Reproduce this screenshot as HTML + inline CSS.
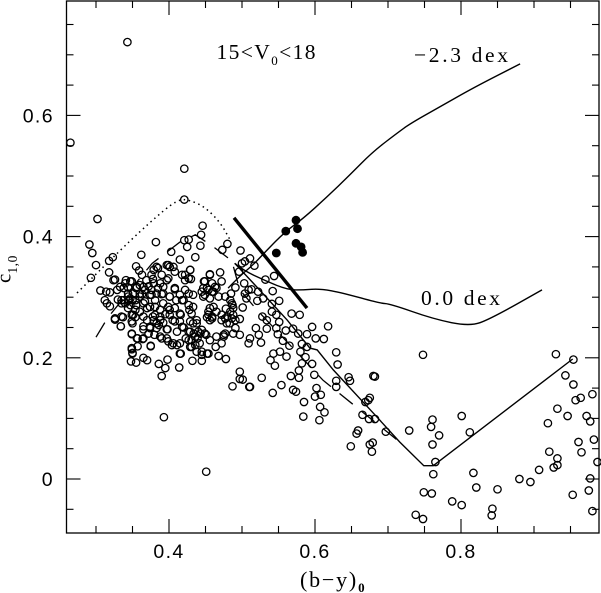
<!DOCTYPE html>
<html>
<head>
<meta charset="utf-8">
<title>c1,0 vs (b-y)0</title>
<style>
html,body{margin:0;padding:0;background:#fff;}
svg{display:block;}
.serif{font-family:"Liberation Serif",serif;fill:#000;}
.sans{font-family:"Liberation Sans",sans-serif;fill:#000;}
</style>
</head>
<body>
<svg id="chart" xmlns="http://www.w3.org/2000/svg" width="601" height="593" viewBox="0 0 601 593">
  <g id="lines"></g>
  <g id="stars"></g>
  <g id="dots"></g>
  <g id="axes"></g>
  <g id="labels"></g>
  <text class="serif" x="216.5" y="59" font-size="21.5" textLength="99">15&lt;V<tspan font-size="13" dy="6">0</tspan><tspan dy="-6">&lt;18</tspan></text>
  <text class="serif" x="414" y="62" font-size="21.5" textLength="94">−2.3 dex</text>
  <text class="serif" x="421" y="305" font-size="21.5" textLength="79">0.0 dex</text>
  <text class="serif" x="300" y="587" font-size="22" letter-spacing="1.8">(b−y)<tspan font-size="13" font-weight="bold" dy="5" letter-spacing="0">0</tspan></text>
  <text class="serif" transform="translate(10.5,283) rotate(-90)" font-size="21">c<tspan font-size="13.5" dy="6.5" letter-spacing="0.6">1,0</tspan></text>
</svg>
<script>
var xTicks = [0.25,0.30,0.35,0.40,0.45,0.50,0.55,0.60,0.65,0.70,0.75,0.80,0.85,0.90,0.95];
var yTicks = [-0.05,0,0.05,0.10,0.15,0.20,0.25,0.30,0.35,0.40,0.45,0.50,0.55,0.60,0.65,0.70,0.75];
var xLabels = [0.4,0.6,0.8];
var yLabels = [0,0.2,0.4,0.6];
var curveMetalPoor = [[.481,.315],[.497,.335],[.515,.353],[.532,.375],[.559,.408],[.584,.430],[.616,.465],[.648,.502],[.679,.540],[.716,.574],[.734,.589],[.771,.614],[.816,.645],[.881,.685]];
var curveSolar = [[.490,.356],[.501,.345],[.532,.327],[.563,.312],[.584,.312],[.607,.314],[.638,.307],[.689,.290],[.703,.289],[.762,.264],[.812,.252],[.840,.264],[.911,.312]];
var curveDescending = [[.490,.356],[.514,.325],[.562,.262],[.593,.216],[.603,.213],[.625,.180],[.685,.102],[.716,.061],[.749,.022],[.762,.022],[.953,.198]];
var curveDashed = [[.300,.234],[.316,.266],[.347,.312],[.377,.356],[.415,.391],[.436,.403],[.460,.384],[.486,.360],[.497,.312],[.519,.281],[.611,.163],[.716,.061]];
var curveDotted = [[.274,.307],[.319,.361],[.374,.424],[.412,.462],[.429,.460],[.449,.449],[.470,.424],[.484,.394]];
var boundaryLine = [[.489,.431],[.589,.282]];
var filledStars = [[.574,.427],[.560,.409],[.576,.413],[.547,.373],[.574,.389],[.581,.383],[.583,.374]];
var fieldStars = [
[.343,.721],[.265,.555],[.421,.512],[.421,.461],[.393,.102],[.451,.012],
[.302,.429],[.291,.387],[.295,.373],[.382,.391],[.300,.353],[.318,.360],[.323,.366],[.362,.370],[.318,.341],[.293,.332],[.326,.329],[.403,.375],[.421,.394],[.427,.395],[.425,.383],[.415,.362],[.355,.351],[.359,.344],[.363,.337],
[.306,.311],[.314,.309],[.319,.308],[.329,.312],[.341,.328],[.349,.326],[.338,.315],[.344,.316],[.344,.306],[.360,.320],[.369,.328],[.378,.330],[.385,.348],[.397,.353],[.401,.350],[.408,.342],[.422,.337],[.429,.345],[.312,.295],[.315,.290],[.319,.285],[.326,.263],[.337,.267],[.334,.252],[.349,.239],[.357,.232],[.365,.232],[.349,.214],[.350,.208],[.357,.219],[.375,.220],[.365,.200],[.370,.196],[.348,.194],[.355,.192],[.386,.190],[.395,.183],[.398,.197],[.390,.170],[.414,.184],
[.335,.295],[.340,.290],[.344,.282],[.349,.271],[.355,.287],[.360,.301],[.367,.312],[.360,.276],[.365,.268],[.354,.267],[.350,.257],[.365,.252],[.374,.249],[.372,.240],[.383,.257],[.388,.262],[.381,.271],[.374,.284],[.381,.295],[.385,.315],[.376,.312],[.392,.317],[.399,.331],[.408,.313],[.415,.304],[.401,.301],[.392,.290],[.399,.284],[.408,.282],[.420,.295],[.427,.306],[.422,.328],[.428,.279],[.416,.271],[.401,.271],[.415,.260],[.397,.247],[.388,.235],[.397,.232],[.406,.224],[.415,.224],[.423,.232],[.416,.207],[.427,.243],[.411,.243],[.383,.249],[.374,.304],[.388,.279],[.367,.293],[.347,.298],[.351,.306],
[.372,.318],[.355,.315],[.345,.295],[.390,.305],[.410,.295],[.395,.272],[.378,.268],[.370,.262],[.380,.238],[.392,.258],[.405,.262],[.420,.250],[.363,.305],[.350,.295],[.430,.330],[.330,.296],[.335,.290],
[.456,.337],[.449,.326],[.459,.323],[.447,.315],[.454,.312],[.461,.309],[.449,.304],[.456,.298],[.463,.317],[.456,.282],[.454,.271],[.465,.276],[.459,.265],
[.338,.295],[.344,.301],[.347,.287],[.354,.295],[.354,.279],[.360,.306],[.365,.290],[.365,.317],[.340,.323],[.333,.317],[.324,.328],[.347,.326],[.356,.317],[.326,.265],[.335,.268],[.334,.252],[.351,.271],[.349,.260],[.370,.282],[.376,.337],[.379,.345],[.383,.350],[.390,.337],[.399,.353],[.406,.350],[.418,.337],[.429,.345],[.427,.331],[.397,.328],[.379,.323],[.388,.323],[.376,.304],[.383,.306],[.392,.306],[.408,.315],[.422,.312],[.433,.304],[.401,.301],[.381,.284],[.388,.268],[.379,.262],[.386,.254],[.374,.251],[.398,.247],[.401,.279],[.418,.295],[.427,.287],[.415,.273],[.408,.260],[.418,.251],[.429,.260],[.438,.257],[.445,.246],[.434,.240],[.449,.240],[.427,.229],[.411,.221],[.399,.227],[.390,.232],[.365,.247],[.349,.240],[.364,.231],[.356,.232],[.375,.219],[.415,.207],[.404,.221],[.456,.229],[.465,.235],[.431,.218],[.438,.210],[.445,.205],[.454,.207],[.349,.216],[.350,.207],
[.446,.418],[.444,.403],[.443,.385],[.436,.366],[.480,.388],[.473,.378],[.498,.377],[.470,.341],[.456,.338],[.448,.326],[.472,.326],[.452,.315],[.445,.309],[.459,.309],[.447,.301],[.465,.315],[.468,.301],[.477,.301],[.485,.306],[.491,.316],[.511,.364],[.504,.359],[.500,.356],[.517,.352],[.496,.342],[.503,.323],[.532,.329],[.544,.335],[.542,.310],[.509,.312],[.504,.306],[.513,.313],[.522,.309],[.529,.298],[.506,.298],[.521,.294],[.551,.294],[.541,.289],[.541,.276],[.547,.271],[.551,.259],[.528,.268],[.534,.262],[.501,.283],[.478,.281],[.486,.290],[.488,.282],[.461,.284],[.454,.276],[.459,.268],[.452,.267],[.472,.271],[.480,.268],[.491,.262],[.497,.264],[.472,.262],[.483,.257],[.491,.249],[.519,.249],[.534,.248],[.547,.249],[.549,.239],[.523,.238],[.497,.238],[.475,.238],[.451,.238],[.443,.240],[.436,.235],[.436,.221],[.445,.210],[.452,.207],[.464,.218],[.472,.224],[.488,.240],[.511,.232],[.509,.224],[.526,.225],[.556,.228],[.565,.220],[.560,.245],[.570,.248],[.577,.240],[.589,.239],[.596,.251],[.618,.252],[.601,.232],[.612,.231],[.568,.273],[.579,.271],[.582,.223],[.589,.218],[.580,.210],[.587,.201],[.582,.191],[.596,.190],[.629,.209],[.631,.189],[.599,.172],[.567,.170],[.578,.179],[.578,.167],[.554,.155],[.602,.150],[.629,.162],[.629,.152],[.543,.207],[.539,.196],[.552,.210],[.561,.202],[.545,.187],[.497,.177],[.497,.165],[.487,.153],[.510,.152],[.468,.203],[.478,.198],[.445,.195],[.432,.195],
[.484,.295],[.487,.287],[.484,.276],[.488,.271],[.479,.257],[.486,.265],[.477,.265],[.433,.284],[.433,.257],[.438,.262],[.429,.243],[.456,.262],[.431,.273],[.440,.243],[.449,.240],[.477,.240],[.475,.235],[.439,.232],[.431,.229],[.442,.224],[.429,.218],
[.501,.164],[.511,.152],[.527,.167],[.542,.142],[.570,.147],[.574,.144],
[.646,.168],[.648,.162],[.680,.170],[.682,.169],[.608,.139],[.600,.136],[.585,.127],[.607,.119],[.613,.110],[.584,.103],[.606,.097],[.748,.205],[.675,.134],[.673,.130],[.669,.127],[.665,.106],[.674,.099],[.682,.099],[.697,.078],[.729,.080],[.659,.080],[.657,.075],[.649,.054],[.679,.060],[.675,.057],[.678,.045],[.761,.098],[.759,.086],[.770,.072],[.761,.057],[.765,.028],
[.930,.206],[.954,.197],[.943,.171],[.954,.156],[.957,.130],[.964,.134],[.980,.140],[.932,.116],[.946,.104],[.972,.104],[.977,.095],[.919,.092],[.801,.104],[.812,.077],[.961,.061],[.982,.065],[.965,.044],[.921,.045],[.932,.034],[.932,.023],[.927,.019],[.907,.015],[.987,.028],[.762,.008],[.817,.010],[.977,.001],[.880,.000],[.895,-.005],[.821,-.014],[.975,-.019],[.850,-.017],[.749,-.022],[.760,-.024],[.953,-.026],[.788,-.037],[.801,-.043],[.843,-.049],[.842,-.060],[.980,-.053],[.738,-.059],[.748,-.066]
];

var SVGNS = 'http://www.w3.org/2000/svg';
var frameLeft = 66.5, frameRight = 599, frameTop = 1, frameBottom = 533;
function X(v){ return 169 + (v - 0.4) * 730; }
function Y(v){ return 479 - v * 606; }
function make(tag, parent, attrs){
  var el = document.createElementNS(SVGNS, tag);
  for (var k in attrs) el.setAttribute(k, attrs[k]);
  parent.appendChild(el);
  return el;
}
function pathFrom(arr){
  return arr.map(function(p, i){ return (i ? 'L' : 'M') + X(p[0]).toFixed(1) + ' ' + Y(p[1]).toFixed(1); }).join(' ');
}
function smoothFrom(arr){
  var d = 'M' + X(arr[0][0]).toFixed(1) + ' ' + Y(arr[0][1]).toFixed(1);
  for (var i = 1; i < arr.length - 1; i++) {
    var mx = (X(arr[i][0]) + X(arr[i+1][0])) / 2, my = (Y(arr[i][1]) + Y(arr[i+1][1])) / 2;
    d += ' Q' + X(arr[i][0]).toFixed(1) + ' ' + Y(arr[i][1]).toFixed(1) + ' ' + mx.toFixed(1) + ' ' + my.toFixed(1);
  }
  var last = arr[arr.length - 1];
  return d + ' L' + X(last[0]).toFixed(1) + ' ' + Y(last[1]).toFixed(1);
}
function isMajor(v){ return Math.abs(v * 5 - Math.round(v * 5)) < 1e-6; }

var lines = document.getElementById('lines');
var c1 = make('path', lines, {d: smoothFrom(curveMetalPoor), fill:'none', stroke:'#000', 'stroke-width':1.4});


var c2 = make('path', lines, {d: smoothFrom(curveSolar), fill:'none', stroke:'#000', 'stroke-width':1.4});


var c3 = make('path', lines, {d: pathFrom(curveDescending), fill:'none', stroke:'#000', 'stroke-width':1.4});


var c4 = make('path', lines, {d: pathFrom(curveDashed), fill:'none', stroke:'#000', 'stroke-width':1.3, 'stroke-dasharray':'17 11'});


var c5 = make('path', lines, {d: smoothFrom(curveDotted), fill:'none', stroke:'#000', 'stroke-width':1.5, 'stroke-dasharray':'1.5 3.6'});


var c6 = make('path', lines, {d: pathFrom(boundaryLine), fill:'none', stroke:'#000', 'stroke-width':3.4});



var stars = document.getElementById('stars');
fieldStars.forEach(function(p){
  var c = make('circle', stars, {cx:X(p[0]).toFixed(1), cy:Y(p[1]).toFixed(1), r:3.7, fill:'none', stroke:'#000', 'stroke-width':1.3});
  
  
});
var dots = document.getElementById('dots');
filledStars.forEach(function(p){
  var c = make('circle', dots, {cx:X(p[0]).toFixed(1), cy:Y(p[1]).toFixed(1), r:4.4, fill:'#000'});
  
  
});

var axes = document.getElementById('axes');
var frame = make('rect', axes, {x:frameLeft, y:frameTop, width:frameRight-frameLeft, height:frameBottom-frameTop, fill:'none', stroke:'#000', 'stroke-width':1.3});


xTicks.forEach(function(v){
  var len = isMajor(v) ? 14 : 7, x = X(v);
  if (x < frameLeft || x > frameRight) return;
  var t = make('line', axes, {x1:x, x2:x, y1:frameBottom, y2:frameBottom-len, stroke:'#000', 'stroke-width':1.1});
  
  
  var u = make('line', axes, {x1:x, x2:x, y1:frameTop, y2:frameTop+len, stroke:'#000', 'stroke-width':1.1});
  
  
});
yTicks.forEach(function(v){
  var len = isMajor(v) ? 14 : 7, y = Y(v);
  var t = make('line', axes, {x1:frameLeft, x2:frameLeft+len, y1:y, y2:y, stroke:'#000', 'stroke-width':1.1});
  
  
  var u = make('line', axes, {x1:frameRight, x2:frameRight-len, y1:y, y2:y, stroke:'#000', 'stroke-width':1.1});
  
  
});

var labels = document.getElementById('labels');
xLabels.forEach(function(v){
  var t = make('text', labels, {x:X(v), y:558, 'text-anchor':'middle', 'font-size':19.5, 'letter-spacing':1.4, 'class':'sans'});
  
  
  t.textContent = v.toFixed(1);
});
yLabels.forEach(function(v){
  var t = make('text', labels, {x:54, y:Y(v)+7, 'text-anchor':'end', 'font-size':19.5, 'letter-spacing':1.4, 'class':'sans'});
  
  
  t.textContent = v === 0 ? '0' : v.toFixed(1);
});
</script>
</body>
</html>
